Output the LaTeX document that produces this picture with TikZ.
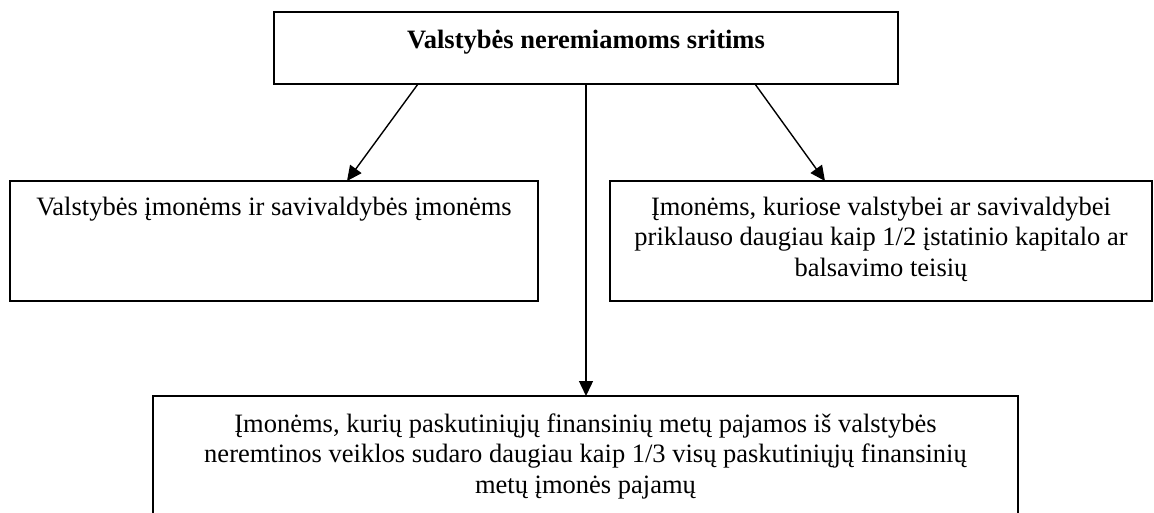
\documentclass[tikz,border=0pt]{standalone}
\usepackage{fontspec}
\setmainfont{Liberation Serif}
\usetikzlibrary{arrows.meta}
\newcommand{\boxtxt}[4]{\parbox[c][#2][t]{#1}{\centering\rule{0pt}{#3}#4}}
\tikzset{
  frame/.style={draw, line width=1.6pt, inner sep=0pt, outer sep=0pt, anchor=north west,
    font=\fontsize{26.5}{30.5}\selectfont},
  conn/.style={line width=1.4pt, -{Triangle[length=15pt,width=14pt]}}
}
\begin{document}
\begin{tikzpicture}[x=1pt,y=-1pt]
\clip (0,0) rectangle (1154,512);
\fill[white] (0,0) rectangle (1154,512);
\node[frame] (t) at (274,12) {\boxtxt{624pt}{72pt}{36pt}{\bfseries Valstybės neremiamoms sritims}};
\node[frame] (l) at (10,181) {\boxtxt{528pt}{120pt}{34pt}{Valstybės įmonėms ir savivaldybės įmonėms}};
\node[frame] (r) at (610,181) {\boxtxt{542pt}{120pt}{34pt}{Įmonėms, kuriose valstybei ar savivaldybei\\ priklauso daugiau kaip 1/2 įstatinio kapitalo ar\\ balsavimo teisių}};
\node[frame] (b) at (153,396) {\boxtxt{865pt}{140pt}{36pt}{Įmonėms, kurių paskutiniųjų finansinių metų pajamos iš valstybės\\ neremtinos veiklos sudaro daugiau kaip 1/3 visų paskutiniųjų finansinių\\ metų įmonės pajamų}};
\draw[conn] ([xshift=144pt]t.south west) -- ([xshift=337pt]l.north west);
\draw[conn] ([xshift=-143pt]t.south east) -- ([xshift=215pt]r.north west);
\draw[conn] (t.south) -- (t.south |- b.north);
\end{tikzpicture}
\end{document}
